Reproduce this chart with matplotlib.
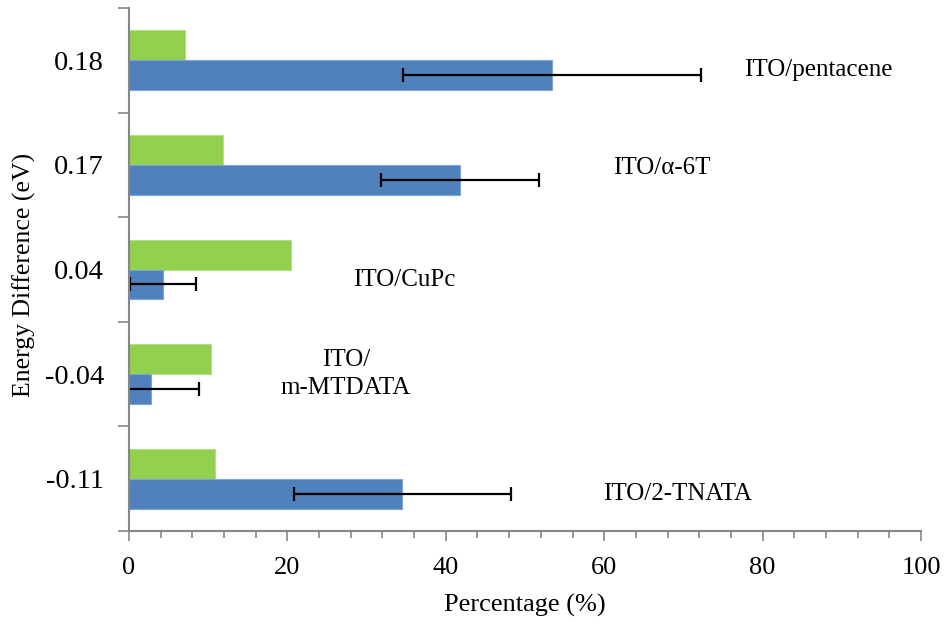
import matplotlib
matplotlib.use("Agg")
import matplotlib.pyplot as plt
import numpy as np
from matplotlib.ticker import MultipleLocator, FixedLocator

plt.rcParams['font.family'] = ['Liberation Serif', 'DejaVu Serif']

# Energy difference categories (bottom to top)
categories = ["-0.11", "-0.04", "0.04", "0.17", "0.18"]
green_values = [10.9, 10.4, 20.5, 11.9, 7.1]
blue_values = [34.5, 2.8, 4.3, 41.8, 53.4]
blue_errors = [13.7, 6.0, 4.15, 10.0, 18.8]

# Interface labels placed beside each group
interface_labels = ["ITO/2-TNATA", "ITO/\nm-MTDATA", "ITO/CuPc", "ITO/\u03b1-6T", "ITO/pentacene"]
label_x = [69.3, 27.4, 34.8, 67.3, 87.0]
label_y = [-0.15, 1.0, 1.9, 2.97, 3.91]

blue = "#4F81BD"
green = "#92D050"
axis_grey = "#868686"

fig = plt.figure(figsize=(9.47, 6.25), dpi=100)
ax = fig.add_axes([0.1362, 0.1504, 0.8364, 0.8368])

pos = np.arange(len(categories))
h = 0.286
ax.barh(pos + h / 2, green_values, height=h, color=green, edgecolor="#B3E080", linewidth=0.8)
ax.barh(pos - h / 2, blue_values, height=h, color=blue, edgecolor="#7FA3D3", linewidth=0.8,
        xerr=blue_errors, error_kw=dict(ecolor="black", elinewidth=1.6, capsize=5, capthick=1.6))

for t, x, y in zip(interface_labels, label_x, label_y):
    ax.text(x, y, t, ha="center", va="center", fontsize=18, linespacing=1.35)

ax.set_xlim(0, 100)
ax.set_ylim(-0.5, len(categories) - 0.5)

ax.xaxis.set_major_locator(MultipleLocator(20))
ax.xaxis.set_minor_locator(MultipleLocator(4))
ax.tick_params(axis="x", which="major", length=7, width=1.2, color=axis_grey, labelsize=19, pad=12)
ax.tick_params(axis="x", which="minor", length=5, width=1.2, color=axis_grey)

# Category labels at centres, tick marks at the boundaries
ax.yaxis.set_major_locator(FixedLocator(pos))
ax.set_yticklabels(categories)
ax.yaxis.set_minor_locator(FixedLocator(np.arange(-0.5, len(categories), 1.0)))
ax.tick_params(axis="y", which="major", length=0, labelsize=20.5, pad=18)
ax.tick_params(axis="y", which="minor", length=8, width=1.2, color=axis_grey)

for side in ["top", "right"]:
    ax.spines[side].set_visible(False)
for side in ["left", "bottom"]:
    ax.spines[side].set_color(axis_grey)
    ax.spines[side].set_linewidth(1.5)

ax.set_xlabel("Percentage (%)", fontsize=19)
ax.set_ylabel("Energy Difference (eV)", fontsize=18.5)
ax.xaxis.set_label_coords(0.5, -0.12)
ax.yaxis.set_label_coords(-0.118, 0.49)

fig.savefig("out.png", dpi=100)
